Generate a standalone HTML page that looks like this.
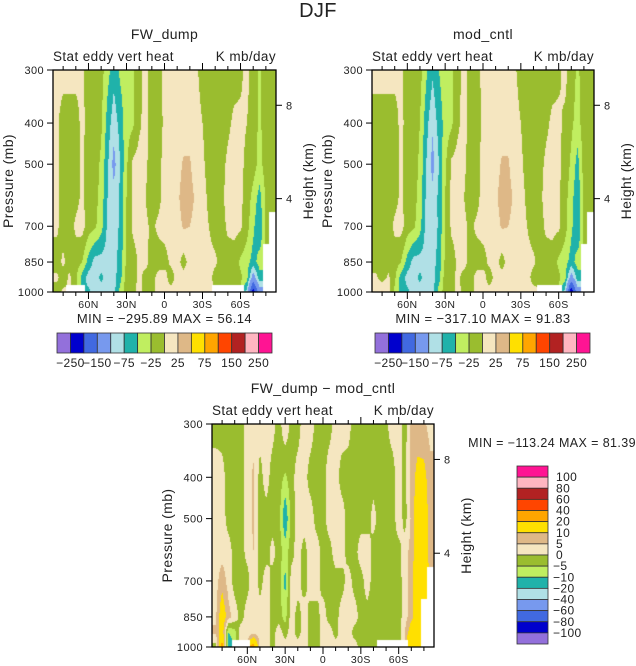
<!DOCTYPE html>
<html><head><meta charset="utf-8"><style>
html,body{margin:0;padding:0;background:#fff;}
#wrap{position:relative;width:636px;height:666px;overflow:hidden;font-family:"Liberation Sans",sans-serif;}
canvas{position:absolute;}
svg{position:absolute;left:0;top:0;}
svg text{font-family:"Liberation Sans",sans-serif;fill:#222;letter-spacing:0.4px;}
</style></head><body>
<div id="wrap">
<canvas id="c1" style="left:53px;top:70px" width="223" height="222"></canvas>
<canvas id="c2" style="left:372px;top:70px" width="222" height="222"></canvas>
<canvas id="c3" style="left:212px;top:424px" width="222" height="223"></canvas>
<svg id="ov" width="636" height="666"></svg>
</div>
<script>
const lats=[85,80,75,70,65,60,55,50,45,40,35,30,25,20,15,10,5,0,-5,-10,-15,-20,-25,-30,-35,-40,-45,-50,-55,-60,-65,-70,-75,-80,-85];
const levels=[300,400,500,600,700,850,925,1000];
const colors=["#9370DB","#0000CD","#4169E1","#7799EE","#B0E0E6","#20B2AA","#C0EE60","#9ABD2F","#F5E6C0","#DEB887","#FFE000","#FFA500","#FF4500","#B22222","#FFB6C1","#FF1493"];
const contourLevelsTop=[-250,-200,-150,-100,-75,-50,-25,0,25,50,75,100,150,200,250];
const contourLevelsDiff=[-100,-80,-60,-40,-20,-10,-5,0,5,10,20,40,60,80,100];
const topBarLabels=["-250","-150","-75","-25","25","75","150","250"];
const diffBarLabels=["100","80","60","40","20","10","5","0","-5","-10","-20","-40","-60","-80","-100"];
const latTicks=[60,30,0,-30,-60];
const latTickLabels=["60N","30N","0","30S","60S"];
const pTicks=[300,400,500,700,850,1000];
const hTicks=[8,4];
const N=null;
const field1=[
[10,10,10,10,5,-12,-12,-15,-40,-65,-45,-35,-30,-10,10,-12,-10,8,12,12,12,12,5,-12,-12,-12,-12,-12,-10,-5,8,-12,-30,-12,-12],
[5,-12,-12,-12,8,-12,-12,-20,-60,-90,-65,-35,-30,-5,10,-12,-12,5,12,12,12,12,12,0,-12,-12,-12,-5,5,5,0,-12,-30,-12,-12],
[5,-12,-12,-10,5,-12,-12,-30,-70,-110,-75,-30,5,10,5,-12,-10,10,12,15,28,28,10,5,-10,-12,-8,5,10,5,-5,-12,-35,-12,-12],
[5,-12,-12,-8,5,-12,-15,-35,-75,-90,-70,-25,5,10,0,-12,-8,10,12,20,35,35,20,10,-5,-12,-5,8,10,5,-10,-35,-60,-20,-12],
[5,-12,-12,5,10,-12,-20,-40,-80,-90,-70,-25,5,10,5,-5,5,10,12,15,28,25,15,10,0,-12,-10,5,8,5,-15,-45,-70,-20,N],
[-12,5,-12,-12,-25,-60,-85,-85,-85,-85,-65,-20,-12,5,10,-12,-12,-10,5,10,-10,10,10,8,8,5,-10,-12,-12,-30,-40,-60,-40,N,N],
[5,-12,5,-20,-60,-85,-85,-70,-85,-85,-60,-12,-12,8,-12,-12,10,10,-12,10,10,10,10,10,10,-10,-12,-12,-12,-20,-40,-120,-60,N,N],
[-12,5,N,N,N,-70,-85,-85,-85,-85,-40,-12,-12,10,-12,-10,10,10,10,10,10,10,10,10,10,N,N,N,N,N,-80,-230,-120,N,N]
];
const field2=[
[10,10,10,10,5,-12,-12,-15,-45,-70,-50,-35,-30,-10,10,-12,-10,8,12,12,12,12,5,-12,-12,-12,-12,-12,-10,-5,8,-12,-30,-12,-12],
[-12,-12,-12,-12,8,-12,-12,-25,-65,-95,-65,-40,-30,-5,10,-12,-12,5,12,12,12,12,12,0,-12,-12,-12,-5,5,5,-5,-20,-35,-12,-12],
[-12,-12,-12,-10,5,-12,-12,-30,-75,-110,-75,-30,5,10,5,-12,-10,10,12,15,28,28,10,5,-10,-12,-8,5,10,5,-10,-30,-60,-12,-12],
[-12,-12,-12,-8,5,-12,-15,-35,-80,-90,-70,-25,5,10,0,-12,-8,10,12,20,35,35,20,10,-5,-12,-5,8,10,5,-15,-40,-70,-20,-12],
[-12,-12,-12,5,10,-12,-20,-40,-85,-95,-70,-25,5,10,5,-5,5,10,12,15,28,25,15,10,0,-12,-10,5,8,5,-15,-45,-70,-20,N],
[-12,-12,-12,-12,-25,-60,-85,-85,-85,-85,-65,-20,-12,5,10,-12,-12,-10,5,10,-10,10,10,8,8,5,-10,-12,-12,-30,-40,-60,-40,N,N],
[5,-12,5,-20,-60,-85,-85,-70,-85,-85,-60,-12,-12,8,-12,-12,10,10,-12,10,10,10,10,10,10,-10,-12,-12,-12,-20,-40,-120,-60,N,N],
[10,30,10,-30,-60,-70,-85,-85,-85,-85,-40,-12,-12,10,-12,-10,10,10,10,10,10,10,10,10,10,10,N,N,N,N,-80,-240,-120,N,N]
];
const field3=[
[-2.5,-2.5,-2.5,-2.5,-2.5,2.5,2.5,2.5,2.5,2,-2.5,4,-2,-2.5,3,3,-2,-2.5,-2,2,3,2,-2.5,-2.5,-2.5,-2.5,-2.5,-1,2.5,2.5,-2,6,7,6,3],
[3,2,-2.5,-2.5,-2.5,3,6,-2,2.5,-2.5,-2.5,-6,-2,2.5,2.5,-2.5,-2.5,-2,3,2.5,-2.5,-2.5,-2.5,-2.5,-2.5,-2.5,-2.5,-2,-2.5,3,-2,7,12,12,7],
[3,3,-2.5,-2.5,-2,3,6,-2.5,-2.5,-2.5,-2.5,-15,-2.5,2,3,3,-2.5,-2.5,3,3,3,-2.5,-2.5,-2.5,-2.5,2,-2.5,-2.5,-2.5,3,-2,6,15,15,7],
[3,3,3,-2.5,-2.5,2,5,-2.5,-2.5,2,-2.5,-7,-2.5,3,-2.5,3,3,-2.5,-2.5,3,3,-2.5,-2.5,3,3,-2.5,-2.5,-2.5,-2,-2,3,7,15,15,7],
[3,8,3,-2.5,-2.5,-2.5,5,-2.5,3,-2.5,-2.5,-12,3,3,-2.5,3,3,-2.5,-2.5,-2.5,-2.5,3,-2.5,-2.5,3,-2.5,-2.5,-2.5,-2.5,-2.5,3,8,15,15,N],
[4,15,7,3,-2.5,3,3,3,4,-2.5,-2.5,-7,3,-2.5,3,-2.5,-2.5,3,-2.5,-2.5,3,3,3,-2.5,-2.5,-2.5,-2.5,-2.5,-2.5,-2.5,3,8,15,N,N],
[6,15,-10,-7,3,3,3,3,3,-2.5,3,-2.5,3,-2.5,3,-2.5,-2.5,3,3,-2.5,3,3,-2.5,-2.5,-2.5,-2.5,-2.5,-2.5,-2.5,-2.5,5,15,15,N,N],
[-2.5,25,-15,N,N,N,25,3,3,-2.5,3,3,3,3,3,-2.5,-2.5,3,3,3,3,3,3,-2.5,-2.5,-2.5,N,N,N,N,N,20,15,N,N]
];
const LN300=Math.log(300),LNR=Math.log(1000/300);
const lnLev=levels.map(Math.log);
function hex(c){return [parseInt(c.substr(1,2),16),parseInt(c.substr(3,2),16),parseInt(c.substr(5,2),16)];}
const rgb=colors.map(hex);
function draw(id,field,lv){
  const cv=document.getElementById(id),ctx=cv.getContext('2d'),W=cv.width,H=cv.height;
  const img=ctx.createImageData(W,H);
  for(let py=0;py<H;py++){
    const lp=LN300+(py+0.5)/H*LNR;
    let r=0;while(r<levels.length-2&&lp>lnLev[r+1])r++;
    let ty=(lp-lnLev[r])/(lnLev[r+1]-lnLev[r]);ty=Math.max(0,Math.min(1,ty));
    for(let px=0;px<W;px++){
      const lat=88-(px+0.5)/W*176;
      let fc=(lats[0]-lat)/5;fc=Math.max(0,Math.min(lats.length-1,fc));
      let c=Math.min(Math.floor(fc),lats.length-2);const tx=fc-c;
      const v=[[field[r][c],field[r][c+1]],[field[r+1][c],field[r+1][c+1]]];
      const w=[[(1-ty)*(1-tx),(1-ty)*tx],[ty*(1-tx),ty*tx]];
      const nr=ty<0.5?0:1,nc=tx<0.5?0:1;
      const k=(py*W+px)*4;
      if(v[nr][nc]===null){img.data[k]=255;img.data[k+1]=255;img.data[k+2]=255;img.data[k+3]=255;continue;}
      let s=0,sw=0;for(let i=0;i<2;i++)for(let j=0;j<2;j++){if(v[i][j]!==null){s+=v[i][j]*w[i][j];sw+=w[i][j];}}
      const val=s/sw;let ci=0;while(ci<lv.length&&val>=lv[ci])ci++;
      const col=rgb[ci];img.data[k]=col[0];img.data[k+1]=col[1];img.data[k+2]=col[2];img.data[k+3]=255;
    }
  }
  ctx.putImageData(img,0,0);
}
draw('c1',field1,contourLevelsTop);
draw('c2',field2,contourLevelsTop);
draw('c3',field3,contourLevelsDiff);

const svg=document.getElementById('ov');const NS="http://www.w3.org/2000/svg";
function el(tag,attrs,txt){const e=document.createElementNS(NS,tag);for(const k in attrs)e.setAttribute(k,attrs[k]);if(txt!==undefined)e.textContent=txt;svg.appendChild(e);return e;}
function text(x,y,s,size,anchor,name,extra){const t=el('text',Object.assign({x:x,y:y,'font-size':size,'text-anchor':anchor||'middle'},extra||{}),s);


return t;}
function line(x1,y1,x2,y2,name,w){const l=el('line',{x1:x1,y1:y1,x2:x2,y2:y2,stroke:'#000','stroke-width':w||1});


return l;}
text(318,17,"DJF",20,'middle','figure-title',{'font-weight':'normal',fill:'#333'});
function panel(L,T,W,H,title,minmax,pfx){
  const R=L+W,B=T+H;
  const xs=lat=>L+(88-lat)/176*W, ys=p=>T+Math.log(p/300)/LNR*H;
  text((L+R)/2,T-31,title,14,'middle',pfx+'-title');
  text(L,T-9,"Stat eddy vert heat",13.5,'start',pfx+'-field-label');
  text(R,T-9,"K mb/day",13.5,'end',pfx+'-units-label');
  const fr=el('rect',{x:L,y:T,width:W,height:H,fill:'none',stroke:'#000','stroke-width':1.3});
  
  
  for(let lat=80;lat>=-80;lat-=10){const x=xs(lat);const maj=latTicks.indexOf(lat)>=0;const len=maj?7:4;
    line(x,T,x,T-len,pfx+'-top-tick');line(x,B,x,B+len,pfx+'-bottom-tick');}
  latTicks.forEach((lat,i)=>text(xs(lat),B+16,latTickLabels[i],10.5,'middle',pfx+'-lat-label'));
  pTicks.forEach(p=>{const y=ys(p);line(L,y,L-6,y,pfx+'-pressure-tick');text(L-9,y+4,String(p),11,'end',pfx+'-pressure-label');});
  hTicks.forEach(h=>{const p=1000*Math.exp(-h/7.9);const y=ys(p);line(R,y,R+6,y,pfx+'-height-tick');text(R+10,y+4,String(h),11,'start',pfx+'-height-label');});
  text(0,0,"Pressure (mb)",14,'middle',pfx+'-y-axis-title',{transform:`translate(${L-40},${(T+B)/2}) rotate(-90)`});
  text(0,0,"Height (km)",14,'middle',pfx+'-right-axis-title',{transform:`translate(${R+37},${(T+B)/2}) rotate(-90)`});
  if(minmax)text((L+R)/2,B+31,minmax,13,'middle',pfx+'-min-max',{'xml:space':'preserve'});
}
panel(53,70,223,222,"FW_dump","MIN  =  \u2212295.89   MAX  =   56.14",'p1');
panel(372,70,222,222,"mod_cntl","MIN  =  \u2212317.10   MAX  =   91.83",'p2');
panel(212,424,222,223,"FW_dump \u2212 mod_cntl",null,'p3');
text(636,447,"MIN = \u2212113.24   MAX =  81.39",12.5,'end','p3-min-max',{'xml:space':'preserve'});
function hbar(L,T,W,H,pfx){
  const bw=W/colors.length;
  colors.forEach((c,i)=>{const r=el('rect',{x:L+i*bw,y:T,width:bw,height:H,fill:c,stroke:'#333','stroke-width':0.8});
    
    });
  topBarLabels.forEach((s,i)=>text(L+(1+2*i)*bw,T+H+14,s.replace('-','\u2212'),12,'middle',pfx+'-colorbar-label'));
}
hbar(57,333,215,20,'p1');
hbar(375,333,215,20,'p2');
(function(){const L=517,T=466,W=31,H=178,bh=H/colors.length;
  for(let i=0;i<colors.length;i++){const r=el('rect',{x:L,y:T+i*bh,width:W,height:bh,fill:colors[colors.length-1-i],stroke:'#333','stroke-width':0.8});
    
    }
  diffBarLabels.forEach((s,i)=>text(s.startsWith('-')?553:556,T+(i+1)*bh+4,s.replace('-','\u2212'),12,'start','p3-colorbar-label'));
})();
</script>
</body></html>
